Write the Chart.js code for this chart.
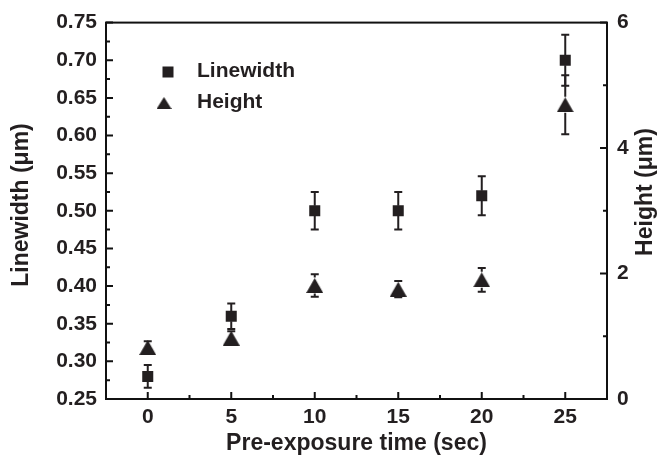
<!DOCTYPE html>
<html><head><meta charset="utf-8">
<script src="https://cdn.jsdelivr.net/npm/chart.js@4"></script>
<style>html,body{margin:0;padding:0;background:#fff}#wrap{width:657px;height:460px}</style>
</head><body><div id="wrap"><canvas id="c" width="657" height="460"></canvas></div>
<script>
const times = [0, 5, 10, 15, 20, 25];
const linewidth = [0.28, 0.36, 0.50, 0.50, 0.52, 0.70];
const linewidthErr = [0.015, 0.017, 0.025, 0.025, 0.026, 0.034];
const height = [0.82, 0.97, 1.81, 1.75, 1.90, 4.69];
const heightErr = [0.10, 0.11, 0.18, 0.13, 0.19, 0.47];
const xTicks = [0, 5, 10, 15, 20, 25];
const xMinor = [2.5, 7.5, 12.5, 17.5, 22.5];
const yLeftTicks = [0.25, 0.30, 0.35, 0.40, 0.45, 0.50, 0.55, 0.60, 0.65, 0.70, 0.75];
const yLeftMinor = [0.275, 0.325, 0.375, 0.425, 0.475, 0.525, 0.575, 0.625, 0.675, 0.725];
const yRightTicks = [0, 2, 4, 6];
const yRightMinor = [1, 3, 5];
const seriesNames = ['Linewidth', 'Height'];
const xTitle = 'Pre-exposure time (sec)';
const yLeftTitle = 'Linewidth (\u03bcm)';
const yRightTitle = 'Height (\u03bcm)';

const INK = '#231f20';
const FONT = 'Liberation Sans, Arial, sans-serif';

function makeTriangle(w, h) {
  const c = document.createElement('canvas');
  c.width = w; c.height = h;
  const g = c.getContext('2d');
  g.fillStyle = INK;
  g.beginPath();
  g.moveTo(w / 2, 0);
  g.lineTo(w, h);
  g.lineTo(0, h);
  g.closePath();
  g.fill();
  return c;
}
const tri = makeTriangle(17, 15);
const triLegend = makeTriangle(15, 12);

const ticksFrom = arr => s => { s.ticks = arr.map(v => ({ value: v })); };

const frame = {
  id: 'frame',
  beforeDatasetsDraw(chart) {
    const ctx = chart.ctx;
    const x = chart.scales.x, yl = chart.scales.y, yr = chart.scales.y2;
    ctx.save();
    ctx.strokeStyle = INK;
    ctx.lineWidth = 2;
    const sets = [
      { vals: linewidth, errs: linewidthErr, sc: yl, gap: 5 },
      { vals: height, errs: heightErr, sc: yr, gap: 8 }
    ];
    sets.forEach(s => {
      times.forEach((t, i) => {
        const px = x.getPixelForValue(t);
        const pc = s.sc.getPixelForValue(s.vals[i]);
        const pt = s.sc.getPixelForValue(s.vals[i] + s.errs[i]);
        const pb = s.sc.getPixelForValue(s.vals[i] - s.errs[i]);
        ctx.beginPath();
        if (pc - pt > s.gap) { ctx.moveTo(px, pc - s.gap); ctx.lineTo(px, pt); }
        if (pb - pc > s.gap) { ctx.moveTo(px, pc + s.gap); ctx.lineTo(px, pb); }
        ctx.moveTo(px - 4, pt); ctx.lineTo(px + 4, pt);
        ctx.moveTo(px - 4, pb); ctx.lineTo(px + 4, pb);
        ctx.stroke();
      });
    });
    ctx.restore();
  },
  afterDraw(chart) {
    const ctx = chart.ctx;
    const a = chart.chartArea;
    const x = chart.scales.x, yl = chart.scales.y, yr = chart.scales.y2;
    ctx.save();
    ctx.strokeStyle = '#111';
    ctx.lineWidth = 2;
    ctx.strokeRect(a.left, a.top, a.right - a.left, a.bottom - a.top);
    ctx.beginPath();
    xTicks.forEach(v => { const p = x.getPixelForValue(v); ctx.moveTo(p, a.bottom); ctx.lineTo(p, a.bottom - 7); });
    xMinor.forEach(v => { const p = x.getPixelForValue(v); ctx.moveTo(p, a.bottom); ctx.lineTo(p, a.bottom - 4); });
    yLeftTicks.forEach(v => { const p = yl.getPixelForValue(v); ctx.moveTo(a.left, p); ctx.lineTo(a.left + 7, p); });
    yLeftMinor.forEach(v => { const p = yl.getPixelForValue(v); ctx.moveTo(a.left, p); ctx.lineTo(a.left + 4, p); });
    yRightTicks.forEach(v => { const p = yr.getPixelForValue(v); ctx.moveTo(a.right, p); ctx.lineTo(a.right - 7, p); });
    yRightMinor.forEach(v => { const p = yr.getPixelForValue(v); ctx.moveTo(a.right, p); ctx.lineTo(a.right - 4, p); });
    ctx.stroke();

    ctx.fillStyle = INK;
    ctx.textAlign = 'center';
    ctx.textBaseline = 'middle';
    ctx.font = 'bold 23px ' + FONT;
    ctx.fillText(xTitle, (a.left + a.right) / 2, 444);
    ctx.save();
    ctx.translate(22, 205);
    ctx.rotate(-Math.PI / 2);
    ctx.fillText(yLeftTitle, 0, 0);
    ctx.restore();
    ctx.save();
    ctx.translate(646, 192);
    ctx.rotate(-Math.PI / 2);
    ctx.fillText(yRightTitle, 0, 0);
    ctx.restore();

    ctx.textAlign = 'left';
    ctx.font = 'bold 21px ' + FONT;
    ctx.fillRect(168 - 5.5, 72 - 5.5, 11, 11);
    ctx.fillText(seriesNames[0], 197, 71);
    ctx.drawImage(triLegend, 164 - 7.5, 103 - 6);
    ctx.fillText(seriesNames[1], 197, 102);
    ctx.restore();
  }
};

const tickFont = { family: FONT, size: 21, weight: 'bold' };

new Chart(document.getElementById('c'), {
  type: 'scatter',
  data: {
    datasets: [
      {
        label: seriesNames[0],
        data: times.map((t, i) => ({ x: t, y: linewidth[i] })),
        yAxisID: 'y',
        pointStyle: 'rect',
        pointRadius: 7.8,
        pointHoverRadius: 7.8,
        backgroundColor: INK,
        borderWidth: 0,
        showLine: false
      },
      {
        label: seriesNames[1],
        data: times.map((t, i) => ({ x: t, y: height[i] })),
        yAxisID: 'y2',
        pointStyle: tri,
        pointRadius: 8,
        backgroundColor: INK,
        borderWidth: 0,
        showLine: false
      }
    ]
  },
  options: {
    responsive: false,
    animation: false,
    devicePixelRatio: 1,
    layout: { padding: { top: 20, left: 0, right: 0, bottom: 0 } },
    plugins: { legend: { display: false }, tooltip: { enabled: false } },
    scales: {
      x: {
        type: 'linear', min: -2.5, max: 27.5,
        afterBuildTicks: ticksFrom(xTicks),
        afterFit: s => { s.height = 61; },
        grid: { display: false, drawTicks: false },
        border: { display: false },
        ticks: { font: tickFont, color: INK, padding: 6, maxRotation: 0 }
      },
      y: {
        position: 'left', min: 0.25, max: 0.75,
        afterBuildTicks: ticksFrom(yLeftTicks),
        afterFit: s => { s.width = 106; },
        grid: { display: false, drawTicks: false },
        border: { display: false },
        ticks: { font: tickFont, color: INK, padding: 9, callback: v => v.toFixed(2) }
      },
      y2: {
        position: 'right', min: 0, max: 6,
        afterBuildTicks: ticksFrom(yRightTicks),
        afterFit: s => { s.width = 50; },
        grid: { display: false, drawTicks: false },
        border: { display: false },
        ticks: { font: tickFont, color: INK, padding: 10 }
      }
    }
  },
  plugins: [frame]
});
</script>
</body></html>
